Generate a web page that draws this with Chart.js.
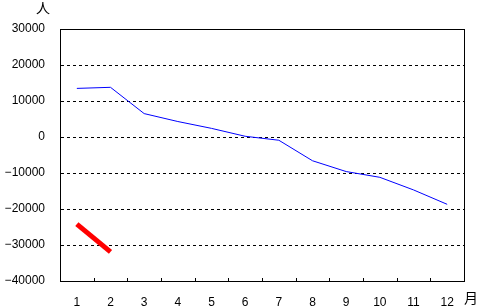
<!DOCTYPE html>
<html>
<head>
<meta charset="utf-8">
<script src="https://cdn.jsdelivr.net/npm/chart.js@4"></script>
<style>
  html, body { margin: 0; padding: 0; background: #fff; }
  #wrap { width: 481px; height: 307px; }
</style>
</head>
<body>
<div id="wrap"><canvas id="chart"></canvas></div>
<script>
const months = ["1", "2", "3", "4", "5", "6", "7", "8", "9", "10", "11", "12"]
const blueValues = [13500, 13800, 6500, 4300, 2400, 200, -900, -6600, -9600, -11200, -14700, -18700]
const redValues = [-24200, -31900, null, null, null, null, null, null, null, null, null, null]
const yMin = -40000
const yMax = 30000
const yStep = 10000

const fontFamily = "'Liberation Sans', sans-serif"

// frame, inner x ticks and the unit labels
const framePlugin = {
    id: "frame",
    afterDraw(chart) {
        const ctx = chart.ctx
        const a = chart.chartArea
        const x = chart.scales.x
        ctx.save()
        ctx.strokeStyle = "#000"
        ctx.lineWidth = 1
        ctx.strokeRect(a.left + 0.5, a.top + 0.5, a.right - a.left, a.bottom - a.top)
        ctx.beginPath()
        for (let i = 1; i < months.length; i++) {
            const px = Math.round((x.getPixelForValue(i - 1) + x.getPixelForValue(i)) / 2) + 0.5
            ctx.moveTo(px, a.bottom)
            ctx.lineTo(px, a.bottom - 3)
        }
        ctx.stroke()
        ctx.fillStyle = "#000"
        ctx.font = "14px 'Noto Sans CJK JP', sans-serif"
        ctx.textAlign = "center"
        ctx.textBaseline = "middle"
        ctx.fillText("人", 43, 8)
        ctx.fillText("月", 471, 298)
        ctx.restore()
    }
}

new Chart(document.querySelector("#chart"), {
    type: "line",
    data: {
        labels: months,
        datasets: [{
            data: blueValues,
            borderColor: "#0000ff",
            borderWidth: 1,
            pointRadius: 0,
            tension: 0
        }, {
            data: redValues,
            borderColor: "#ff0000",
            borderWidth: 5,
            pointRadius: 0,
            tension: 0
        }]
    },
    options: {
        responsive: true,
        maintainAspectRatio: false,
        animation: false,
        layout: { padding: { top: 29, right: 17, left: 0, bottom: 0 } },
        plugins: { legend: { display: false }, tooltip: { enabled: false } },
        scales: {
            x: {
                offset: true,
                grid: { display: false },
                border: { color: "#000" },
                ticks: { color: "#000", font: { family: fontFamily, size: 12 }, maxRotation: 0, padding: 6 },
                afterFit(scale) { scale.height = 26 }
            },
            y: {
                min: yMin,
                max: yMax,
                ticks: {
                    stepSize: yStep,
                    color: "#000",
                    padding: 15,
                    font: { family: fontFamily, size: 12 },
                    callback: v => String(v).replace("-", "\u2212")
                },
                grid: { color: "#000", drawTicks: false },
                border: { color: "#000", dash: [3, 3] },
                afterFit(scale) { scale.width = 60 }
            }
        }
    },
    plugins: [framePlugin]
})
</script>
</body>
</html>
